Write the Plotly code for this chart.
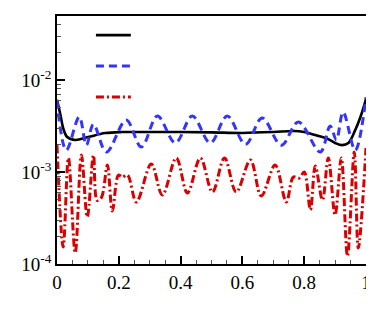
import plotly.graph_objects as go

# ---- data ----
x_black = [0.0, 0.011, 0.02, 0.033, 0.059, 0.101, 0.156, 0.211, 0.3, 0.4, 0.5, 0.6, 0.7, 0.765,
           0.8, 0.836, 0.875, 0.9, 0.923, 0.943, 0.965, 0.982, 1.0]
y_black = [6.1e-3, 4.2e-3, 3.0e-3, 2.4e-3, 2.23e-3, 2.4e-3, 2.65e-3, 2.72e-3, 2.72e-3, 2.72e-3,
           2.7e-3, 2.66e-3, 2.72e-3, 2.79e-3, 2.72e-3, 2.52e-3, 2.3e-3, 2.07e-3, 1.96e-3, 2.07e-3,
           2.85e-3, 3.96e-3, 6.2e-3]

x_blue = [0.0, 0.03, 0.072, 0.095, 0.118, 0.16, 0.224, 0.273, 0.325, 0.383, 0.438, 0.496, 0.551,
          0.61, 0.664, 0.726, 0.781, 0.852, 0.884, 0.904, 0.926, 0.965, 1.0]
y_blue = [6.0e-3, 1.73e-3, 3.96e-3, 1.96e-3, 3.3e-3, 1.65e-3, 3.67e-3, 1.87e-3, 4.06e-3, 2.07e-3,
          4.06e-3, 2.07e-3, 4.06e-3, 2.0e-3, 3.86e-3, 1.96e-3, 3.49e-3, 1.65e-3, 3.16e-3, 2.23e-3,
          4.48e-3, 1.73e-3, 6.5e-3]

x_red = [0.0, 0.02, 0.037, 0.059, 0.079, 0.098, 0.118, 0.13, 0.144, 0.163, 0.179, 0.199, 0.211,
         0.228, 0.257, 0.305, 0.341, 0.386, 0.422, 0.464, 0.503, 0.542, 0.58, 0.626, 0.661, 0.706,
         0.742, 0.765, 0.784, 0.8, 0.82, 0.836, 0.859, 0.878, 0.9, 0.92, 0.94, 0.962, 0.975, 1.0]
y_red = [1.96e-3, 1.53e-4, 1.42e-3, 1.32e-4, 1.53e-3, 3.24e-4, 1.53e-3, 4.9e-4, 5.3e-4, 1.19e-3,
         3.77e-4, 9.27e-4, 8.8e-4, 9.27e-4, 4.72e-4, 1.22e-3, 5.62e-4, 1.42e-3, 5.92e-4, 1.42e-3,
         6.07e-4, 1.42e-3, 6.07e-4, 1.35e-3, 5.49e-4, 1.19e-3, 4.72e-4, 8.8e-4, 8.6e-4, 1.0e-3,
         3.87e-4, 1.16e-3, 4.96e-4, 1.42e-3, 3.41e-4, 1.42e-3, 1.22e-4, 1.65e-3, 1.49e-4, 1.82e-3]

x_tickvals = [0, 0.2, 0.4, 0.6, 0.8, 1]
x_ticktext = ["0", "0.2", "0.4", "0.6", "0.8", "1"]
y_tickvals = [1e-4, 1e-3, 1e-2]
y_ticktext = ["10<sup>-4</sup>", "10<sup>-3</sup>", "10<sup>-2</sup>"]

FONT = "Liberation Serif"
series = [
    dict(x=x_black, y=y_black, color="#000000", width=2.6, dash="solid"),
    dict(x=x_blue, y=y_blue, color="#3434ff", width=3, dash="8px,5px"),
    dict(x=x_red, y=y_red, color="#d80000", width=3, dash="8px,3px,2px,3px"),
]

fig = go.Figure()
for s in series:
    fig.add_trace(go.Scatter(x=s["x"], y=s["y"], mode="lines", showlegend=False,
                             line=dict(color=s["color"], width=s["width"], dash=s["dash"],
                                       shape="spline", smoothing=1)))

# legend keys (no label text in the reference)
key_y = [0.923, 0.798, 0.673]
for s, ky in zip(series, key_y):
    fig.add_shape(type="line", xref="paper", yref="paper", x0=0.126, x1=0.239, y0=ky, y1=ky,
                  line=dict(color=s["color"], width=s["width"], dash=s["dash"]))

minor_y = [m * 10 ** e for e in (-4, -3, -2) for m in range(2, 10)]
minor_x = [i * 0.05 for i in range(21) if i % 4 != 0]

# page body has an 8px default margin, so the figure is sized to fit inside it
fig.update_layout(
    width=366, height=304,
    margin=dict(l=49, r=8, t=8, b=48),
    paper_bgcolor="white", plot_bgcolor="white",
    font=dict(family=FONT, size=18, color="black"),
    showlegend=False,
)
fig.update_xaxes(range=[0, 1], tickvals=x_tickvals, ticktext=x_ticktext, automargin=False,
                 ticks="inside", ticklen=8, tickwidth=1.5, tickcolor="black",
                 tickfont=dict(size=19, family=FONT),
                 showline=True, linecolor="black", linewidth=1.8, mirror=True,
                 showgrid=False, zeroline=False,
                 minor=dict(tickvals=minor_x, ticks="inside", ticklen=4, tickcolor="#555555", tickwidth=1, showgrid=False))
fig.update_yaxes(type="log", range=[-4, -1.304], tickvals=y_tickvals, ticktext=y_ticktext, automargin=False,
                 ticks="inside", ticklen=8, tickwidth=1.5, tickcolor="black",
                 tickfont=dict(size=19, family=FONT), ticklabelstandoff=0,
                 showline=True, linecolor="black", linewidth=1.8, mirror=True,
                 showgrid=False, zeroline=False,
                 minor=dict(tickvals=minor_y, ticks="inside", ticklen=4, tickcolor="#555555", tickwidth=1, showgrid=False))

fig.write_html("out.html")
